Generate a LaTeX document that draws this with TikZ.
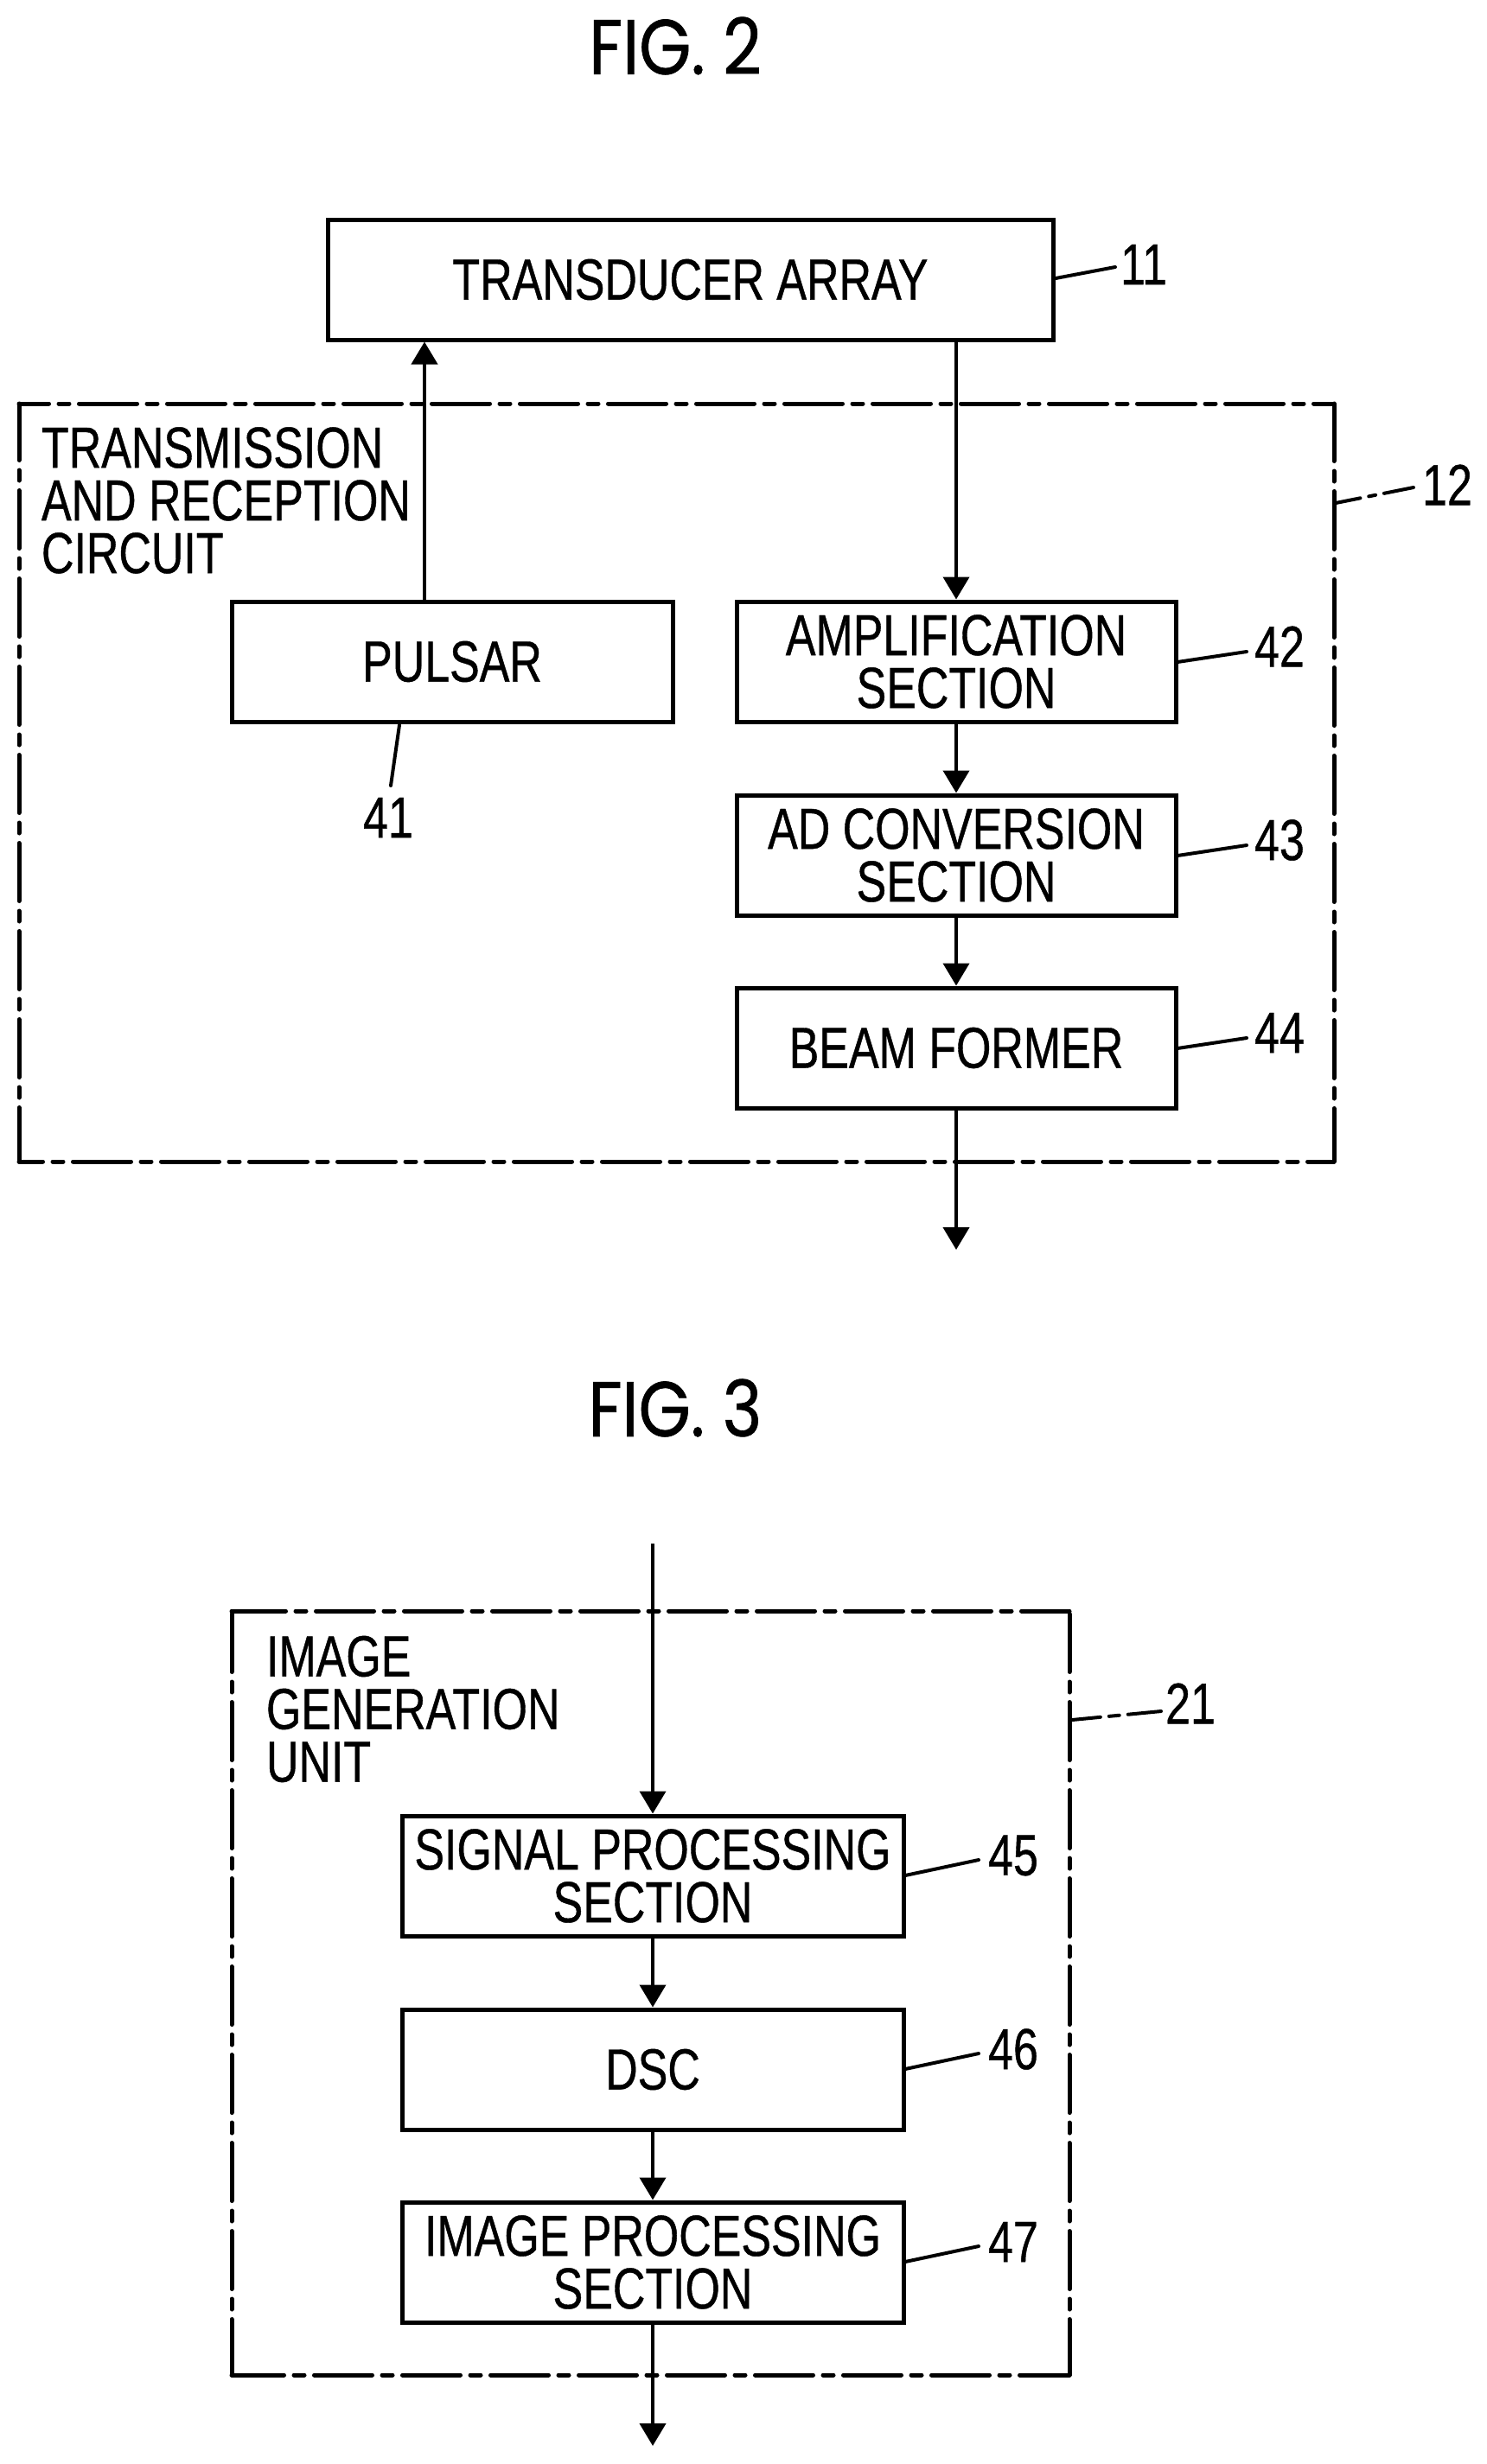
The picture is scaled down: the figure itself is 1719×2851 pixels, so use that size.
\documentclass[tikz,border=0pt]{standalone}
\usepackage{fontspec}
\setmainfont[FakeStretch=0.775,FakeBold=0.6]{Liberation Sans}
\newfontfamily\figfont[FakeStretch=0.86,FakeBold=0.8]{Poppins}
\usetikzlibrary{arrows.meta}
\tikzset{
  x=1pt,y=-1pt,
  lbl/.style={inner sep=0pt,outer sep=0pt,font=\fontsize{67}{61}\selectfont},
  box/.style={lbl,draw=black,line width=5pt,align=center,rectangle},
  frameline/.style={line width=5pt,line cap=round},
  dpat/.style={dash pattern=on 67pt off 11.5pt on 12pt off 11.5pt,dash phase=#1pt},
  wire/.style={line width=4pt,-{Triangle[length=26pt,width=30pt]}},
  leader/.style={line width=4pt,line cap=round},
  figt/.style={inner sep=0pt,outer sep=0pt,font=\figfont\fontsize{90}{90}\selectfont},
}
\begin{document}
\begin{tikzpicture}
\useasboundingbox (0,0) rectangle (1719,2851);
% titles
\node[figt] (fig2) at (781,53) {FIG. 2};
\node[figt] (fig3) at (781,1629) {FIG. 3};
% FIG 2 frame
\coordinate (f1a) at (22,467); \coordinate (f1b) at (1543,467);
\coordinate (f1c) at (1543,1344); \coordinate (f1d) at (22,1344);
\draw[frameline,dpat=32.5] (f1a) -- (f1b);
\draw[frameline,dpat=0.5] (f1b) -- (f1c);
\draw[frameline,dpat=39.5] (f1d) -- (f1c);
\draw[frameline,dpat=1.5] (f1a) -- (f1d);
% FIG 2 boxes
\node[box,minimum width=839pt,minimum height=139pt] (tr) at (798.5,323.5) {TRANSDUCER ARRAY};
\node[box,minimum width=510pt,minimum height=139pt] (pu) at (523,765.5) {PULSAR};
\node[box,minimum width=508pt,minimum height=139pt] (amp) at (1106,765.5) {AMPLIFICATION\\SECTION};
\node[box,minimum width=508pt,minimum height=139pt] (ad) at (1106,989.5) {AD CONVERSION\\SECTION};
\node[box,minimum width=508pt,minimum height=139pt] (bf) at (1106,1212.5) {BEAM FORMER};
\node[lbl,anchor=west,align=left] (t12) at (48,579) {TRANSMISSION\\AND RECEPTION\\CIRCUIT};
% FIG 2 wires
\coordinate (xp) at (491,0);
\draw[wire,shorten >=2.5pt] (pu.north -| xp) -- (tr.south -| xp);
\draw[wire,shorten >=2.5pt] (tr.south -| amp.north) -- (amp.north);
\draw[wire,shorten >=2.5pt] (amp.south) -- (ad.north);
\draw[wire,shorten >=2.5pt] (ad.south) -- (bf.north);
\coordinate (outa) at (1106,1446);
\draw[wire] (bf.south) -- (outa);
% FIG 2 labels
\node[lbl] (n11) at (1323,306) {11};
\node[lbl] (n12) at (1674,561) {12};
\node[lbl] (n41) at (449,946) {41};
\node[lbl] (n42) at (1480,748) {42};
\node[lbl] (n43) at (1480,972) {43};
\node[lbl] (n44) at (1480,1195) {44};
\coordinate (l11a) at (1221,322); \coordinate (l11b) at (1290,309);
\draw[leader] (l11a) -- (l11b);
\coordinate (l12a) at (1545,582); \coordinate (l12b) at (1635,564);
\draw[leader,dash pattern=on 29pt off 10pt on 8pt off 10pt on 50pt] (l12a) -- (l12b);
\coordinate (l41a) at (462,839); \coordinate (l41b) at (452,909);
\draw[leader] (l41a) -- (l41b);
\coordinate (l42a) at (1362,766); \coordinate (l42b) at (1442,754);
\draw[leader] (l42a) -- (l42b);
\coordinate (l43a) at (1362,990); \coordinate (l43b) at (1442,978);
\draw[leader] (l43a) -- (l43b);
\coordinate (l44a) at (1362,1213); \coordinate (l44b) at (1442,1201);
\draw[leader] (l44a) -- (l44b);
% FIG 3 frame
\coordinate (f2a) at (268,1864); \coordinate (f2b) at (1237,1864);
\coordinate (f2c) at (1237,2748); \coordinate (f2d) at (268,2748);
\draw[frameline,dpat=4.5] (f2a) -- (f2b);
\draw[frameline,dpat=98.5] (f2b) -- (f2c);
\draw[frameline,dpat=6.5] (f2d) -- (f2c);
\draw[frameline,dpat=98.5] (f2a) -- (f2d);
% FIG 3 boxes
\node[box,minimum width=580pt,minimum height=139pt] (sg) at (755,2170.5) {SIGNAL PROCESSING\\SECTION};
\node[box,minimum width=580pt,minimum height=139pt] (ds) at (755,2394.5) {DSC};
\node[box,minimum width=580pt,minimum height=139pt] (ip) at (755,2617.5) {IMAGE PROCESSING\\SECTION};
\node[lbl,anchor=west,align=left] (t21) at (308,1977.5) {IMAGE\\GENERATION\\UNIT};
% FIG 3 wires
\coordinate (ina) at (755,1786);
\draw[wire,shorten >=2.5pt] (ina) -- (sg.north);
\draw[wire,shorten >=2.5pt] (sg.south) -- (ds.north);
\draw[wire,shorten >=2.5pt] (ds.south) -- (ip.north);
\coordinate (outb) at (755,2830);
\draw[wire] (ip.south) -- (outb);
% FIG 3 labels
\node[lbl] (n21) at (1377,1971) {21};
\node[lbl] (n45) at (1172,2147) {45};
\node[lbl] (n46) at (1172,2371) {46};
\node[lbl] (n47) at (1172,2594) {47};
\coordinate (l21a) at (1240,1990); \coordinate (l21b) at (1343,1980);
\draw[leader,dash pattern=on 33pt off 10pt on 12pt off 10pt on 50pt] (l21a) -- (l21b);
\coordinate (l45a) at (1047,2170); \coordinate (l45b) at (1132,2152);
\draw[leader] (l45a) -- (l45b);
\coordinate (l46a) at (1047,2394); \coordinate (l46b) at (1132,2376);
\draw[leader] (l46a) -- (l46b);
\coordinate (l47a) at (1047,2617); \coordinate (l47b) at (1132,2599);
\draw[leader] (l47a) -- (l47b);
\end{tikzpicture}
\end{document}
